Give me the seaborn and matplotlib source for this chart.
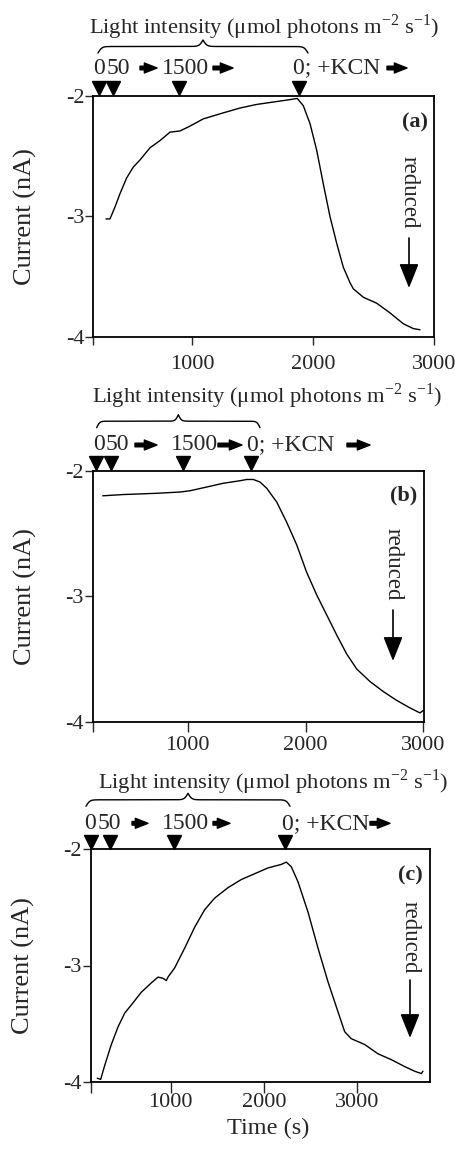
import numpy as np
import matplotlib
matplotlib.use("Agg")
import matplotlib.pyplot as plt
import matplotlib.transforms as mtransforms
import seaborn as sns

a_time = [285, 318, 360, 401, 456, 511, 567, 649, 732, 815, 898, 980, 1090, 1256, 1394, 1532, 1670,
          1808, 1868, 1918, 1974, 2029, 2084, 2139, 2194, 2249, 2305, 2332, 2415, 2526, 2636, 2746,
          2828, 2884]
a_current = [-3.02, -3.02, -2.92, -2.81, -2.68, -2.59, -2.53, -2.43, -2.37, -2.30, -2.29, -2.25, -2.19,
             -2.14, -2.10, -2.07, -2.05, -2.03, -2.02, -2.08, -2.23, -2.45, -2.73, -3.00, -3.22, -3.42,
             -3.55, -3.60, -3.67, -3.72, -3.80, -3.89, -3.93, -3.94]

b_time = [280, 455, 738, 935, 1020, 1162, 1303, 1444, 1501, 1557, 1614, 1671, 1756, 1840, 1925, 2010,
          2095, 2180, 2265, 2349, 2434, 2547, 2660, 2773, 2886, 2971, 2999]
b_current = [-2.20, -2.19, -2.18, -2.17, -2.16, -2.13, -2.10, -2.08, -2.07, -2.07, -2.09, -2.14, -2.25,
             -2.41, -2.59, -2.81, -2.99, -3.15, -3.31, -3.46, -3.58, -3.68, -3.76, -3.83, -3.89, -3.93,
             -3.91]

c_time = [216, 252, 295, 366, 437, 509, 580, 687, 794, 866, 920, 955, 973, 1045, 1152, 1259, 1366, 1473,
          1616, 1759, 1902, 2045, 2187, 2241, 2294, 2366, 2473, 2580, 2687, 2795, 2866, 2937, 3080, 3223,
          3365, 3509, 3616, 3687, 3705]
c_current = [-3.97, -3.98, -3.86, -3.68, -3.53, -3.41, -3.34, -3.23, -3.15, -3.10, -3.11, -3.13, -3.10,
             -3.02, -2.85, -2.67, -2.52, -2.42, -2.33, -2.26, -2.21, -2.16, -2.13, -2.11, -2.15, -2.28,
             -2.54, -2.85, -3.14, -3.40, -3.57, -3.63, -3.68, -3.76, -3.81, -3.87, -3.91, -3.93, -3.91]

# times at which light / KCN was changed (triangles on top)
a_events = [230, 340, 892, 1885]
b_events = [223, 348, 964, 1538]
c_events = [151, 349, 1037, 2223]

event_labels = ["0", "50", "1500", "0; +KCN"]
panel_names = ["(a)", "(b)", "(c)"]
x_ticks = [1000, 2000, 3000]
y_ticks = [-2, -3, -4]
title = "Light intensity (\u03bcmol photons m$^{-2}$ s$^{-1}$)"

sns.set_style("ticks")
plt.rcParams["font.family"] = ["Liberation Serif", "DejaVu Sans"]
plt.rcParams["mathtext.fontset"] = "custom"
plt.rcParams["mathtext.rm"] = "Liberation Serif"
plt.rcParams["axes.unicode_minus"] = False

W, H = 455, 1151
fig = plt.figure(figsize=(W / 100, H / 100), dpi=100)

# layout, all in pixels of the 455x1151 picture
panels = [
    dict(t=a_time, c=a_current, ev=a_events, xlim=(180, 3000), box=(93.3, 96, 434, 337),
         title=(89, 69), row=28, tri=8, lab=[99, 118, 185.7, 293.3],
         arrows=[(140, 157), (213, 233), (387, 407)], brace=(98, 308),
         name=(428, 122), red=(409, 192, 238, 288), xlen=8, xpad=7),
    dict(t=b_time, c=b_current, ev=b_events, xlim=(195, 3005), box=(92.7, 470.7, 424, 721.7),
         title=(92, 75), row=25.7, tri=7.7, lab=[99.3, 117, 194, 246.7],
         arrows=[(135, 157), (218, 242), (347, 370)], brace=(96.7, 260),
         name=(417, 495), red=(393, 564, 610, 661), xlen=10, xpad=3),
    dict(t=c_time, c=c_current, ev=c_events, xlim=(145, 3780), box=(90.7, 849.3, 430, 1081.7),
         title=(98, 67), row=26, tri=7.7, lab=[90, 109, 185.8, 281.7],
         arrows=[(132, 148), (213, 230), (370, 390)], brace=(86, 290),
         name=(423, 875), red=(410, 937, 980, 1038), xlen=11, xpad=0.5),
]


def brace_profile(n=151, beta=110.0):
    t = np.linspace(0, 0.5, n)
    half = 1 / (1 + np.exp(-beta * (t - t[0]))) + 1 / (1 + np.exp(-beta * (t - t[-1])))
    half = (half - half[0]) / (half[-1] - half[0])
    full = np.concatenate([half, half[-2::-1]])
    return np.linspace(0, 1, len(full)), full


for i, p in enumerate(panels):
    l, t, r, b = p["box"]
    w, h = r - l, b - t
    ax = fig.add_axes([l / W, 1 - b / H, w / W, h / H])
    fx = lambda px: (px - l) / w
    fy_up = lambda d: 1 + d / h

    sns.lineplot(x=p["t"], y=p["c"], ax=ax, color="black", lw=1.0)
    ax.set_xlim(*p["xlim"])
    ax.set_ylim(-4, -2)
    ax.set_xticks([p["xlim"][0]] + x_ticks)
    ax.set_xticklabels([""] + [str(v) for v in x_ticks], fontsize=16)
    ax.set_yticks(y_ticks)
    ax.set_yticklabels([str(v) for v in y_ticks], fontsize=16)
    ax.tick_params(axis="x", direction="out", length=p["xlen"] * 0.72, width=1, pad=p["xpad"])
    ax.tick_params(axis="y", direction="out", length=6, width=1, pad=0.5)
    for s in ax.spines.values():
        s.set_linewidth(1.3)
        s.set_color("black")
    ax.set_ylabel("Current (nA)", fontsize=19)
    ax.yaxis.set_label_coords(-56 / w, 0.5)
    if i == 2:
        ax.set_xlabel("Time (s)", fontsize=17.5)
        ax.xaxis.set_label_coords(fx(268), -36 / h)
    else:
        ax.set_xlabel("")

    # triangles at the event times
    trans = mtransforms.blended_transform_factory(ax.transData, ax.transAxes)
    ax.plot(p["ev"], [fy_up(p["tri"])] * len(p["ev"]), "v", color="black", ms=10.5,
            transform=trans, clip_on=False)

    # labels of the light steps
    yrow = fy_up(p["row"])
    for j, (txt, px) in enumerate(zip(event_labels, p["lab"])):
        ha = "left" if j == 3 else "center"
        ax.text(fx(px), yrow, txt, transform=ax.transAxes, ha=ha, va="center", fontsize=17)
    for x0, x1 in p["arrows"]:
        ax.annotate("", xy=(fx(x1), yrow), xytext=(fx(x0), yrow), xycoords="axes fraction",
                    arrowprops=dict(arrowstyle="simple,head_length=0.7,head_width=0.55,tail_width=0.2",
                                    mutation_scale=13, fc="black", ec="black", shrinkA=0, shrinkB=0),
                    annotation_clip=False)

    # curly brace and title
    bx, by = brace_profile()
    x0, x1 = p["brace"]
    ax.plot(fx(x0) + bx * (fx(x1) - fx(x0)), fy_up(43 + 13 * by), color="black", lw=1.0,
            transform=ax.transAxes, clip_on=False)
    ax.text(fx(p["title"][0]), fy_up(p["title"][1]), title, transform=ax.transAxes,
            ha="left", va="center", fontsize=16.2)

    # panel letter
    ax.text(fx(p["name"][0]), 1 - (p["name"][1] - t) / h, panel_names[i], transform=ax.transAxes,
            ha="right", va="center", fontsize=16, fontweight="bold")

    # "reduced" arrow
    rx, ry, a0, a1 = p["red"]
    ax.text(fx(rx), 1 - (ry - t) / h, "reduced", transform=ax.transAxes, rotation=270,
            ha="center", va="center", fontsize=16.5)
    ax.annotate("", xy=(fx(rx), 1 - (a1 - t) / h), xytext=(fx(rx), 1 - (a0 - t) / h),
                xycoords="axes fraction",
                arrowprops=dict(arrowstyle="-|>,head_length=1.5,head_width=0.6", mutation_scale=10,
                                lw=1.2, color="black", shrinkA=0, shrinkB=0))

plt.savefig("out.png", dpi=100)
plt.close()
